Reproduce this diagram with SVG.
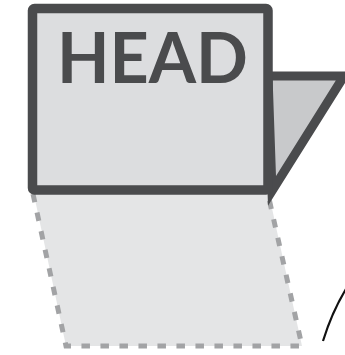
<svg xmlns="http://www.w3.org/2000/svg" width="345" height="355" viewBox="0 0 345 355">
<style>
.ghost{fill:#e4e5e6;stroke:none}
.dash{fill:none;stroke:#a2a3a5;stroke-width:5;stroke-dasharray:8.5 10.5}
.frame{stroke:#4a4b4d;stroke-linejoin:miter}
.label{font-family:Lato,"Open Sans","DejaVu Sans",sans-serif;font-weight:700;fill:#4a4b4d}
</style>
<rect width="345" height="355" fill="#ffffff"/>
<g id="ghost">
<polygon class="ghost" points="33,190 268,190 302,346 66,346"/>
<path class="dash" d="M33,194 L66,346 L302,346 L268,194"/>
</g>
<g id="flap">
<polygon class="frame" points="268,76 344,76 272,191" fill="#c8c9cb" stroke-width="9"/>
</g>
<g id="head">
<rect class="frame" x="32.5" y="8.5" width="235.5" height="181.5" rx="2" fill="#dcdddf" stroke-width="9.5"/>
<text class="label" x="57" y="83" font-size="70" textLength="191" lengthAdjust="spacingAndGlyphs">HEAD</text>
</g>
<g id="connectors">
<path d="M323,341 Q332,312 346,289" fill="none" stroke="#111111" stroke-width="2.2"/>
</g>
</svg>
